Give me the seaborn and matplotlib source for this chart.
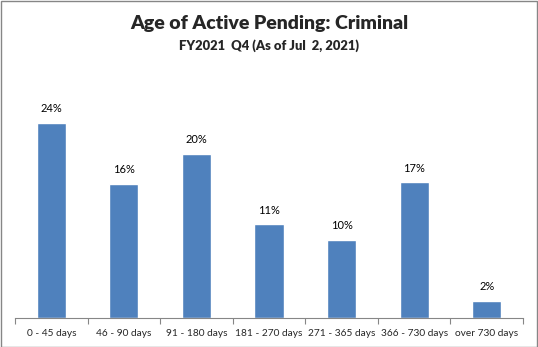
import matplotlib
matplotlib.use("Agg")
import matplotlib.pyplot as plt
import seaborn as sns
import pandas as pd

categories = ["0 - 45 days", "46 - 90 days", "91 - 180 days", "181 - 270 days",
              "271 - 365 days", "366 - 730 days", "over 730 days"]
values = [24.0, 16.5, 20.2, 11.5, 9.6, 16.7, 2.1]
labels = ["24%", "16%", "20%", "11%", "10%", "17%", "2%"]
title = "Age of Active Pending: Criminal"
subtitle = "FY2021  Q4 (As of Jul  2, 2021)"

sns.set_theme(style="white")
plt.rcParams['font.family'] = ['Lato', 'DejaVu Sans']

df = pd.DataFrame({"cat": categories, "val": values})

fig = plt.figure(figsize=(5.38, 3.47), dpi=100)
ax = fig.add_axes([15/538, 29/347, 508/538, 244/347])
sns.barplot(data=df, x="cat", y="val", color="#4F81BD", width=0.40, ax=ax,
            saturation=1)
ax.set_ylim(0, 30)
ax.set_xlim(-0.5, len(categories) - 0.5)
ax.set_xlabel("")
ax.set_ylabel("")
ax.set_yticks([])
for s in ["top", "right", "left"]:
    ax.spines[s].set_visible(False)
ax.spines["bottom"].set_color("#868686")
ax.spines["bottom"].set_linewidth(0.8)
ax.set_xticks([i - 0.5 for i in range(len(categories) + 1)], minor=True)
ax.tick_params(axis="x", which="minor", length=4, color="#868686", width=0.8,
               direction="out", bottom=True)
ax.tick_params(axis="x", which="major", length=0, labelsize=7.3, pad=8)
ax.set_xticks(range(len(categories)))
ax.set_xticklabels(categories)

for p, lab in zip(ax.patches, labels):
    ax.text(p.get_x() + p.get_width() / 2, p.get_height() + 1.05, lab,
            ha="center", va="bottom", fontsize=8, color="black")

fig.text(0.5, 1 - 24/347, title, ha="center", va="center", fontsize=14,
         fontweight="heavy")
fig.text(0.5, 1 - 45.5/347, subtitle, ha="center", va="center", fontsize=9.4,
         fontweight="heavy")

border = plt.Rectangle((0.5/538, 0.5/347), 1 - 1.5/538, 1 - 1.5/347,
                       transform=fig.transFigure, fill=False,
                       edgecolor="#868686", linewidth=1.0)
fig.patches.append(border)

fig.savefig("out.png", dpi=100)
